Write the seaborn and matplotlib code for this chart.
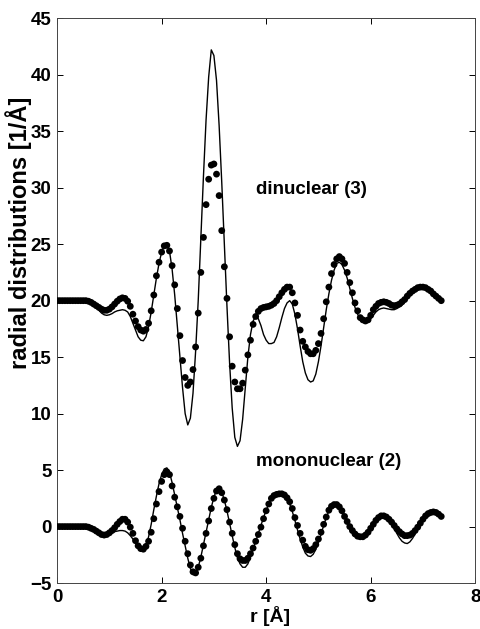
import numpy as np
import pandas as pd
import matplotlib
matplotlib.use("Agg")
import matplotlib.pyplot as plt
import seaborn as sns

# r grid, 0.05 A step, 0 .. 7.35
r = np.round(np.arange(148) * 0.05, 2)

# dinuclear (3), offset by +20: model curve (line) and experiment (dots)
dinuclear_model = [
    20.0, 20.0, 20.0, 20.0, 20.0, 20.0, 20.0, 20.0, 20.0, 20.0,
    20.0, 20.0, 19.95, 19.85, 19.65, 19.4, 19.15, 18.9, 18.75, 18.7,
    18.75, 18.85, 19.0, 19.1, 19.15, 19.2, 19.15, 19.0, 18.6, 18.0,
    17.4, 16.8, 16.5, 16.45, 16.8, 17.7, 19.0, 20.5, 22.0, 23.3,
    24.3, 24.9, 25.0, 24.4, 22.8, 20.5, 17.8, 15.0, 12.3, 10.0,
    9.0, 9.6, 11.8, 15.5, 20.0, 25.5, 31.0, 36.0, 39.8, 42.2,
    41.7, 39.5, 35.5, 30.5, 25.0, 19.5, 14.5, 10.5, 7.9, 7.1,
    7.6, 9.5, 12.3, 15.0, 17.0, 18.2, 18.6, 18.4, 17.8, 17.0,
    16.5, 16.2, 16.2, 16.3, 16.8, 17.6, 18.5, 19.3, 19.8, 20.0,
    19.7, 18.8, 17.5, 16.0, 14.6, 13.6, 13.0, 12.8, 12.9, 13.5,
    14.6, 16.0, 17.6, 19.2, 20.6, 21.8, 22.7, 23.3, 23.4, 23.2,
    22.7, 22.0, 21.1, 20.2, 19.4, 18.8, 18.4, 18.1, 18.0, 18.1,
    18.4, 18.7, 19.0, 19.2, 19.3, 19.35, 19.3, 19.25, 19.2, 19.2,
    19.3, 19.45, 19.6, 19.9, 20.2, 20.5, 20.8, 21.0, 21.1, 21.15,
    21.1, 21.0, 20.9, 20.7, 20.5, 20.3, 20.15, 20.0,
]
dinuclear_exp = [
    20.0, 20.0, 20.0, 20.0, 20.0, 20.0, 20.0, 20.0, 20.0, 20.0,
    20.0, 20.0, 19.95, 19.85, 19.7, 19.55, 19.4, 19.25, 19.15, 19.15,
    19.25, 19.45, 19.7, 19.95, 20.15, 20.25, 20.2, 19.95, 19.5, 18.8,
    18.2, 17.7, 17.4, 17.3, 17.45, 18.0, 19.1, 20.5, 22.2, 23.4,
    24.3, 24.85, 24.9, 24.4, 23.1, 21.4, 19.3, 16.9, 14.7, 13.2,
    12.5, 12.8, 13.9, 15.9, 18.9, 22.5, 25.6, 28.5, 30.75, 32.0,
    32.1, 31.2, 29.3, 26.2, 23.0, 20.2, 16.8, 14.2, 12.8, 12.2,
    12.2, 12.7, 13.85, 15.2, 16.5, 17.9, 18.6, 19.05, 19.3, 19.4,
    19.45, 19.5, 19.6, 19.75, 20.0, 20.35, 20.7, 21.0, 21.2, 21.2,
    20.7, 19.8, 18.7, 17.4, 16.4, 15.9, 15.5, 15.3, 15.3, 15.6,
    16.2, 17.1, 18.4, 19.9, 21.2, 22.4, 23.2, 23.7, 23.9, 23.7,
    23.3, 22.5, 21.6, 20.7, 19.8, 19.1, 18.5, 18.3, 18.2, 18.3,
    18.7, 19.2, 19.5, 19.75, 19.85, 19.9, 19.85, 19.75, 19.6, 19.55,
    19.6, 19.7, 19.9, 20.1, 20.4, 20.65, 20.85, 21.0, 21.15, 21.2,
    21.2, 21.15, 21.0, 20.85, 20.6, 20.4, 20.2, 20.0,
]

# mononuclear (2), no offset
mononuclear_model = [
    0.0, 0.0, 0.0, 0.0, 0.0, 0.0, 0.0, 0.0, 0.0, 0.0,
    0.0, 0.0, -0.05, -0.1, -0.2, -0.35, -0.5, -0.65, -0.7, -0.7,
    -0.65, -0.55, -0.45, -0.4, -0.35, -0.35, -0.4, -0.55, -0.8, -1.1,
    -1.45, -1.8, -2.0, -2.05, -1.7, -0.9, 0.2, 1.5, 2.7, 3.8,
    4.6, 5.1, 5.2, 4.8, 3.9, 2.8, 1.7, 0.6, -0.6, -1.7,
    -2.8, -3.7, -4.25, -4.2, -3.6, -2.7, -1.6, -0.5, 0.6, 1.7,
    2.6, 3.25, 3.4, 3.05, 2.35, 1.4, 0.3, -0.8, -1.85, -2.75,
    -3.3, -3.6, -3.6, -3.3, -2.7, -2.0, -1.3, -0.6, 0.1, 0.8,
    1.45, 2.0, 2.5, 2.8, 2.95, 3.0, 2.95, 2.8, 2.5, 2.0,
    1.35, 0.55, -0.3, -1.1, -1.8, -2.35, -2.6, -2.65, -2.45, -2.0,
    -1.4, -0.7, 0.1, 0.8, 1.4, 1.8, 1.95, 1.95, 1.75, 1.35,
    0.85, 0.35, -0.1, -0.5, -0.8, -1.0, -1.05, -1.05, -0.9, -0.6,
    -0.2, 0.15, 0.5, 0.8, 0.95, 0.95, 0.8, 0.55, 0.2, -0.2,
    -0.6, -1.0, -1.3, -1.45, -1.5, -1.35, -1.05, -0.65, -0.2, 0.25,
    0.65, 0.95, 1.15, 1.25, 1.3, 1.25, 1.1, 0.95,
]
mononuclear_exp = [
    0.0, 0.0, 0.0, 0.0, 0.0, 0.0, 0.0, 0.0, 0.0, 0.0,
    0.0, 0.0, -0.05, -0.15, -0.25, -0.4, -0.55, -0.7, -0.75, -0.7,
    -0.55, -0.35, -0.1, 0.2, 0.45, 0.65, 0.65, 0.4, -0.05, -0.6,
    -1.25, -1.7, -1.95, -2.0, -1.75, -1.3, -0.5, 0.7, 2.0, 3.1,
    4.0, 4.6, 4.85, 4.6, 3.6, 2.6, 1.75, 0.9, -0.15, -1.3,
    -2.4, -3.4, -4.0, -4.1, -3.6, -2.8, -1.7, -0.6, 0.5, 1.6,
    2.5, 3.15, 3.35, 3.0, 2.35, 1.5, 0.4, -0.6, -1.6, -2.4,
    -2.85, -3.0, -3.0, -2.8, -2.4, -1.9, -1.3, -0.7, -0.05, 0.7,
    1.4, 2.0, 2.5, 2.75, 2.85, 2.9, 2.9, 2.8, 2.55, 2.2,
    1.6, 0.8, 0.1, -0.6, -1.2, -1.75, -2.05, -2.1, -1.95, -1.6,
    -1.1, -0.5, 0.2, 0.85, 1.45, 1.8, 1.95, 1.95, 1.75, 1.4,
    0.9, 0.45, 0.0, -0.35, -0.65, -0.85, -0.9, -0.9, -0.75, -0.5,
    -0.15, 0.2, 0.55, 0.8, 0.95, 0.95, 0.85, 0.65, 0.4, 0.1,
    -0.2, -0.45, -0.65, -0.8, -0.8, -0.75, -0.6, -0.35, -0.05, 0.3,
    0.65, 0.95, 1.15, 1.25, 1.3, 1.25, 1.1, 0.9,
]

x_ticks = [0, 2, 4, 6, 8]
y_ticks = [-5, 0, 5, 10, 15, 20, 25, 30, 35, 40, 45]

sns.set_style("ticks")
plt.rcParams['font.family'] = ['Liberation Sans', 'DejaVu Sans']
plt.rcParams['font.weight'] = 'bold'
plt.rcParams['text.color'] = 'black'
plt.rcParams['axes.labelcolor'] = 'black'
plt.rcParams['xtick.color'] = 'black'
plt.rcParams['ytick.color'] = 'black'

models = pd.DataFrame({
    'r': np.concatenate([r, r]),
    'g': dinuclear_model + mononuclear_model,
    'set': ['dinuclear'] * len(r) + ['mononuclear'] * len(r),
})
exps = pd.DataFrame({
    'r': np.concatenate([r, r]),
    'g': dinuclear_exp + mononuclear_exp,
    'set': ['dinuclear'] * len(r) + ['mononuclear'] * len(r),
})

fig = plt.figure(figsize=(4.8, 6.29), dpi=100)
ax = fig.add_axes([0.119, 0.073, 0.871, 0.898])

sns.lineplot(data=models, x='r', y='g', units='set', estimator=None,
             color='black', linewidth=1.0, ax=ax, legend=False)
sns.scatterplot(data=exps, x='r', y='g', color='black', s=24,
                edgecolor='none', ax=ax, legend=False, zorder=3)

ax.set_xlim(0, 8)
ax.set_ylim(-5, 45)
ax.set_xticks(x_ticks)
ax.set_yticks(y_ticks)
ax.tick_params(direction='in', length=4, width=0.7, top=True, right=True,
               labelsize=13.5, pad=4, colors='black')
for lab in ax.get_xticklabels() + ax.get_yticklabels():
    lab.set_fontweight('bold')
for sp in ax.spines.values():
    sp.set_linewidth(0.7)
    sp.set_color('#444444')

ax.set_xlabel('r [Å]', fontsize=14, fontweight='bold', color='black')
ax.set_ylabel('radial distributions [1/Å]', fontsize=17, fontweight='bold', color='black')
ax.xaxis.set_label_coords(0.51, -0.040)
ax.yaxis.set_label_coords(-0.060, 0.62)

ax.text(3.8, 29.8, 'dinuclear (3)', fontsize=13.5, fontweight='bold',
        va='center', color='black')
ax.text(3.8, 5.8, 'mononuclear (2)', fontsize=13.5, fontweight='bold',
        va='center', color='black')

fig.savefig('out.png', dpi=100)
